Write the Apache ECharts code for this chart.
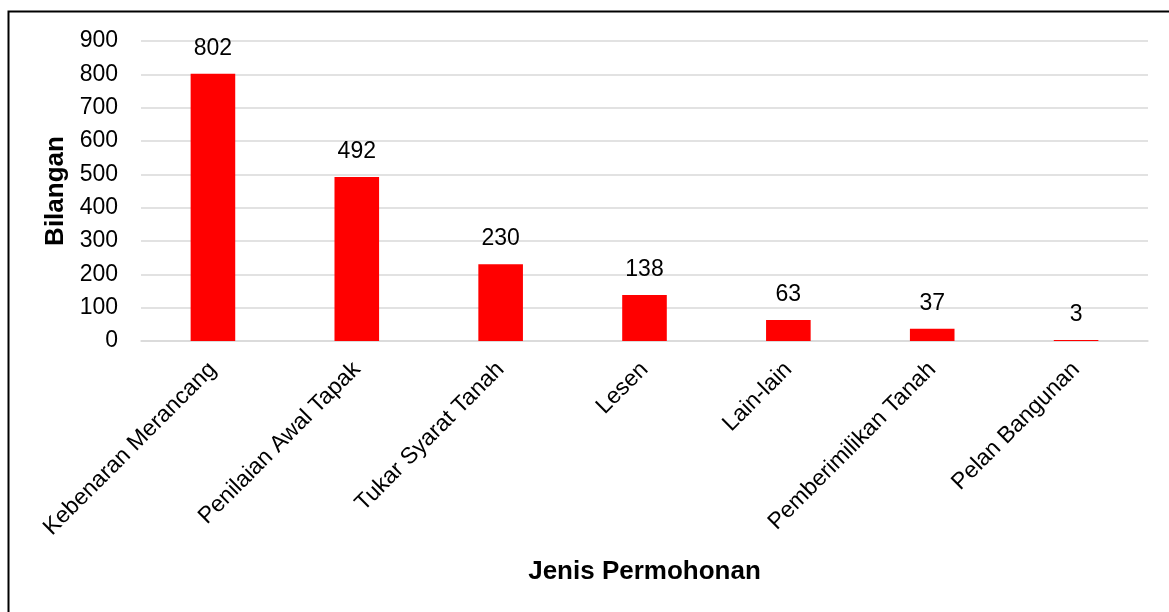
<!DOCTYPE html>
<html>
<head>
<meta charset="utf-8">
<script src="https://cdn.jsdelivr.net/npm/echarts@6/dist/echarts.min.js"></script>
<style>
  html, body { margin: 0; padding: 0; background: #fff; }
  #chart { width: 1169px; height: 612px; }
</style>
</head>
<body>
<div id="chart"></div>
<script>
  var categories = ['Kebenaran Merancang', 'Penilaian Awal Tapak', 'Tukar Syarat Tanah', 'Lesen', 'Lain-lain', 'Pemberimilikan Tanah', 'Pelan Bangunan'];
  var values = [802, 492, 230, 138, 63, 37, 3];
  var yTicks = [0, 100, 200, 300, 400, 500, 600, 700, 800, 900];

  var font = '"Liberation Sans", Arial, sans-serif';
  var chart = echarts.init(document.getElementById('chart'));

  var option = {
    animation: false,
    backgroundColor: '#fff',
    textStyle: { fontFamily: font },
    graphic: [{
      type: 'rect',
      shape: { x: 8.5, y: 11.5, width: 1200, height: 700 },
      style: { fill: 'none', stroke: '#000', lineWidth: 2 },
      silent: true
    }],
    grid: { left: 141, right: 21, top: 41, bottom: 271 },
    xAxis: {
      type: 'category',
      data: categories,
      name: 'Jenis Permohonan',
      nameLocation: 'middle',
      nameGap: 218,
      nameTextStyle: { fontSize: 26, fontWeight: 'bold', color: '#000', fontFamily: font },
      axisLine: { lineStyle: { color: '#d9d9d9', width: 1.5 } },
      axisTick: { show: false },
      axisLabel: { rotate: 45, fontSize: 23, color: '#000', margin: 25, interval: 0, fontFamily: font }
    },
    yAxis: {
      type: 'value',
      min: yTicks[0],
      max: yTicks[yTicks.length - 1],
      interval: 100,
      name: 'Bilangan',
      nameLocation: 'middle',
      nameGap: 71,
      nameTextStyle: { fontSize: 26, fontWeight: 'bold', color: '#000', fontFamily: font },
      axisLine: { show: false },
      axisTick: { show: false },
      axisLabel: { fontSize: 23, color: '#000', margin: 23, fontFamily: font },
      splitLine: { lineStyle: { color: '#d9d9d9', width: 1.5 } }
    },
    series: [{
      type: 'bar',
      data: values,
      barWidth: '31%',
      itemStyle: { color: '#ff0000' },
      label: {
        show: true,
        position: 'top',
        distance: 14,
        fontSize: 23,
        color: '#000',
        fontFamily: font
      }
    }]
  };

  chart.setOption(option);
</script>
</body>
</html>
